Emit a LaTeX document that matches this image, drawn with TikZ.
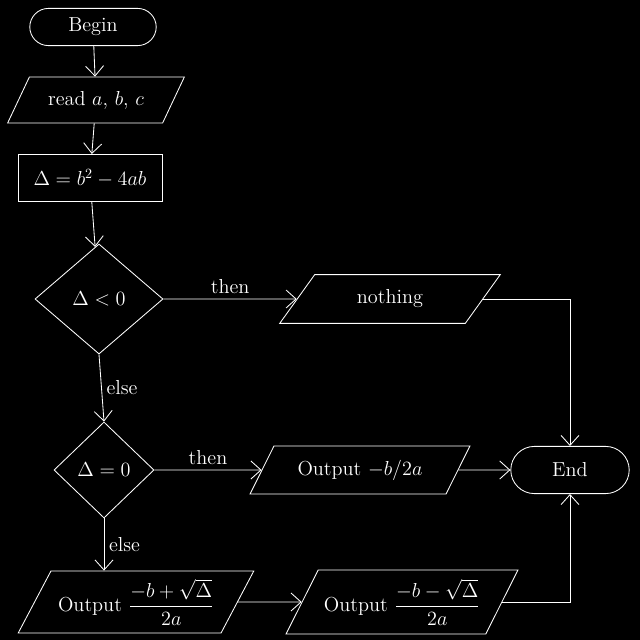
\documentclass[tikz,border=0pt]{standalone}
\usepackage{amsmath, amssymb}
\usetikzlibrary{arrows.meta, shapes.geometric, shapes.misc}

\begin{document}
\begin{tikzpicture}[x=0.025cm, y=-0.025cm,
  every node/.style={text=white, font=\Large},
  caja/.style={draw=white, line width=0.6pt, inner sep=2pt},
  terminal/.style={caja, rounded rectangle},
  datos/.style={caja, trapezium, trapezium stretches=true, trapezium left angle=55, trapezium right angle=125},
  salida/.style={datos, trapezium left angle=60, trapezium right angle=120, inner xsep=0pt},
  proceso/.style={caja, rectangle},
  decision/.style={caja, diamond, inner sep=0pt},
  linea/.style={draw=white, line width=0.6pt},
  flecha/.style={linea, -{Straight Barb[length=2.5mm, width=4.5mm]}},
  etiqueta/.style={font=\Large}
]

% Fondo
\fill[black] (0,0) rectangle (640,640);
\useasboundingbox (0,0) rectangle (640,640);

% Inicio y lectura
\node[terminal, minimum width=3.3cm, minimum height=0.93cm] (inicio) at (93,27) {Begin};
\node[datos, minimum width=4.45cm, minimum height=1.15cm] (leer) at (96,100) {read $a$, $b$, $c$};
\node[proceso, minimum width=3.6cm, minimum height=1.18cm] (disc) at (90,178) {$\Delta = b^2 - 4ab$};

% Decisiones
\node[decision, minimum width=3.2cm, minimum height=2.75cm] (cond1) at (99,299) {$\Delta < 0$};
\node[decision, minimum width=2.5cm, minimum height=2.4cm] (cond2) at (104,470) {$\Delta = 0$};

% Salidas
\node[datos, minimum width=5.55cm, minimum height=1.22cm] (nada) at (390,299) {nothing};
\node[datos, minimum width=5.5cm, minimum height=1.2cm] (sal1) at (360,470) {Output $-b/2a$};
\node[salida, minimum width=5.9cm, minimum height=1.55cm] (sal2) at (136,602) {Output $\dfrac{-b+\sqrt{\Delta}}{2a}$};
\node[salida, minimum width=5.8cm, minimum height=1.6cm] (sal3) at (402,602) {Output $\dfrac{-b-\sqrt{\Delta}}{2a}$};

% Fin
\node[terminal, minimum width=3.1cm, minimum height=1.18cm] (fin) at (570,470) {End};

% Conexiones
\draw[flecha] (inicio) -- (leer);
\draw[flecha] (leer) -- (disc);
\draw[flecha] (disc) -- (cond1);
\draw[flecha] (cond1.east) -- node[etiqueta, above] {then} (nada.west);
\draw[flecha] (cond1.south) -- node[etiqueta, right] {else} (cond2.north);
\draw[flecha] (cond2.east) -- node[etiqueta, above] {then} (sal1.west);
\draw[flecha] (cond2.south) -- node[etiqueta, right] {else} (cond2.south |- sal2.north);
\draw[flecha] (sal2.east) -- (sal3.west);
\draw[flecha] (sal1.east) -- (fin.west);
\draw[flecha] (nada.east) -| (fin.north);
\draw[flecha] (sal3.east) -| (fin.south);

\end{tikzpicture}
\end{document}
